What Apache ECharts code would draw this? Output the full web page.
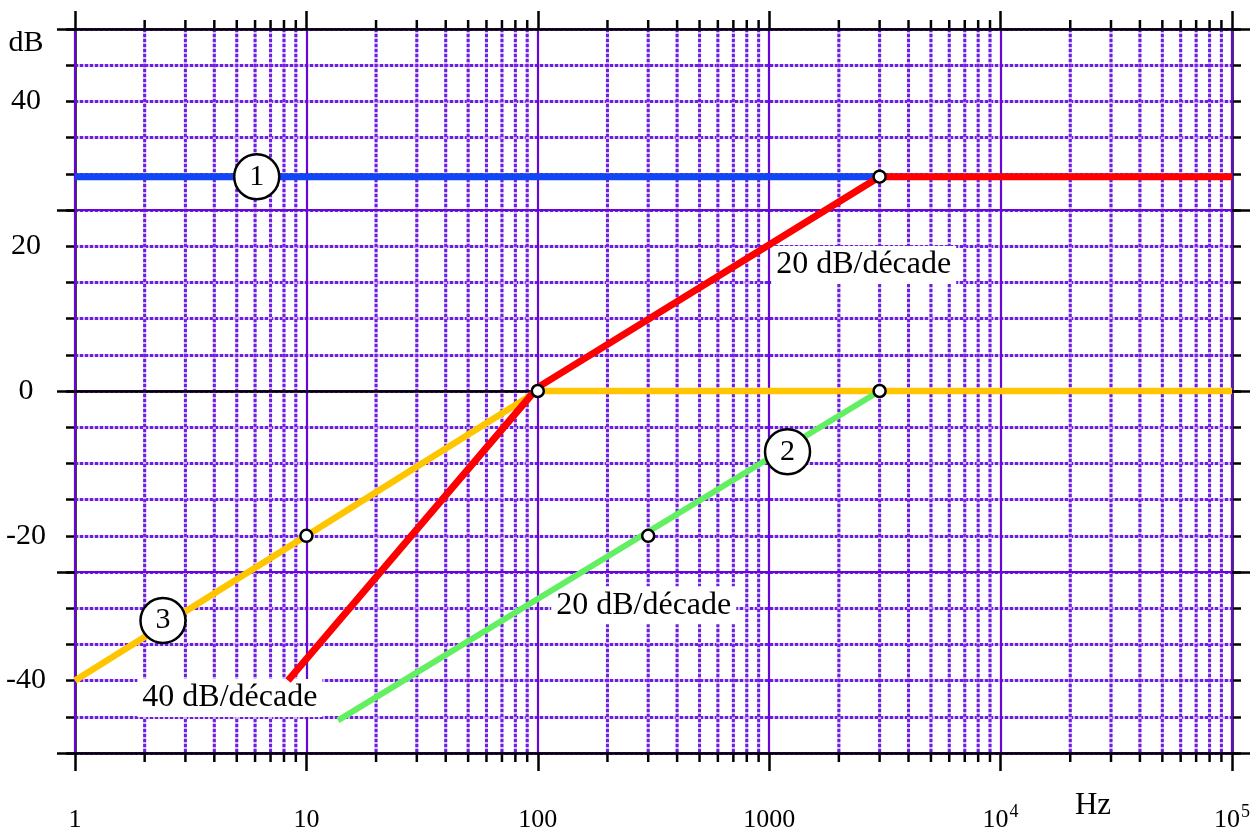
<!DOCTYPE html>
<html>
<head>
<meta charset="utf-8">
<script src="https://cdn.jsdelivr.net/npm/echarts@6/dist/echarts.min.js"></script>
<style>html,body{margin:0;padding:0;background:#fff}#c{width:1258px;height:833px}</style>
</head>
<body>
<div id="c"></div>
<script>
// ---- data ----
const blueData   = [[1, 29.6], [3000, 29.6]];
const redData    = [[8.33, -40], [100, 0.5], [3000, 29.6], [100000, 29.6]];
const yellowData = [[1, -40], [100, 0], [100000, 0]];
const greenData  = [[13.7, -45.5], [3000, 0]];
const breakPoints = [[3000, 29.6], [100, 0], [3000, 0], [10, -20], [300, -20]];
const curveTags  = [[6.1, 29.6, '1'], [1200, -8.4, '2'], [2.4, -31.7, '3']];
const slopeNotes = [[2560, 17.4, '20 dB/décade'], [287, -29.6, '20 dB/décade'], [4.67, -42.4, '40 dB/décade']];
const minorFreqs = [2,3,4,5,6,7,8,9, 20,30,40,50,60,70,80,90, 200,300,400,500,600,700,800,900,
                    2000,3000,4000,5000,6000,7000,8000,9000, 20000,30000,40000,50000,60000,70000,80000,90000];
const yTickLabels = [40, 20, 0, -20, -40];
const X_MIN = 1, X_MAX = 100000, Y_MIN = -50, Y_MAX = 50;

const FONT = '"Liberation Serif", "DejaVu Serif", serif';
const DOT = '#6e1ee2';
const DOT_BG = '#d2b8f4';
const SOLID = '#6608d4';

const chart = echarts.init(document.getElementById('c'), null, {renderer: 'canvas'});

function xLabel(v) {
  if (v <= 1000) return '{n|' + Math.round(v) + '}';
  return '{n|10}{s|' + Math.round(Math.log10(v)) + '}';
}

const option = {
  animation: false,
  backgroundColor: '#fff',
  grid: {left: 75, right: 26, top: 29, bottom: 78, containLabel: false},
  xAxis: [
    {
      type: 'log', logBase: 10, min: X_MIN, max: X_MAX, position: 'bottom', z: 2,
      axisLine: {show: true, onZero: false, lineStyle: {color: '#000', width: 2.5}},
      axisTick: {show: true, length: 18, lineStyle: {color: '#000', width: 2.5}},
      splitLine: {show: true, lineStyle: {color: SOLID, width: 2.2}},
      minorTick: {show: false}, minorSplitLine: {show: false},
      axisLabel: {
        show: true, margin: 50, formatter: xLabel, color: '#000',
        fontFamily: FONT, fontSize: 26,
        rich: {
          n: {fontFamily: FONT, fontSize: 26, color: '#000', lineHeight: 30, verticalAlign: 'bottom'},
          s: {fontFamily: FONT, fontSize: 18, color: '#000', lineHeight: 30, verticalAlign: 'top', padding: [0, 0, 0, 1]}
        }
      }
    },
    {
      type: 'log', logBase: 10, min: X_MIN, max: X_MAX, position: 'top', z: 2,
      axisLine: {show: true, onZero: false, lineStyle: {color: '#000', width: 2.5}},
      axisTick: {show: true, length: 18, lineStyle: {color: '#000', width: 2.5}},
      splitLine: {show: false}, axisLabel: {show: false}
    }
  ],
  yAxis: [
    {
      type: 'value', min: Y_MIN, max: Y_MAX, interval: 5, position: 'left', z: 0,
      axisLine: {show: true, onZero: false, lineStyle: {color: '#000', width: 2.5}},
      axisTick: {show: true, length: 9, lineStyle: {color: '#000', width: 2.5}},
      splitLine: {show: true, lineStyle: {color: DOT_BG, width: 3, type: 'solid'}},
      axisLabel: {
        show: true, margin: 49, align: 'center', color: '#000', fontFamily: FONT, fontSize: 30,
        formatter: function (v) { return yTickLabels.indexOf(v) >= 0 ? String(v) : ''; }
      }
    },
    {
      type: 'value', min: Y_MIN, max: Y_MAX, interval: 25, position: 'left', z: 2,
      axisLine: {show: false, onZero: false},
      axisTick: {show: true, length: 18, lineStyle: {color: '#000', width: 2.5}},
      splitLine: {show: true, lineStyle: {color: SOLID, width: 2.2}},
      axisLabel: {show: false}
    },
    {
      type: 'value', min: Y_MIN, max: Y_MAX, interval: 5, position: 'right', z: 1,
      axisLine: {show: true, onZero: false, lineStyle: {color: '#000', width: 2.5}},
      axisTick: {show: true, length: 9, lineStyle: {color: '#000', width: 2.5}},
      splitLine: {show: true, lineStyle: {color: DOT, width: 3, type: [3, 2]}},
      axisLabel: {show: false}
    },
    {
      type: 'value', min: Y_MIN, max: Y_MAX, interval: 25, position: 'right', z: 2,
      axisLine: {show: false, onZero: false},
      axisTick: {show: true, length: 18, lineStyle: {color: '#000', width: 2.5}},
      splitLine: {show: false}, axisLabel: {show: false}
    }
  ],
  graphic: [
    {type: 'text', x: 26, y: 43, z: 100,
     style: {text: 'dB', font: '30px ' + FONT, fill: '#000', align: 'center', verticalAlign: 'middle'}},
    {type: 'text', x: 1093, y: 806, z: 100,
     style: {text: 'Hz', font: '31px ' + FONT, fill: '#000', align: 'center', verticalAlign: 'middle'}}
  ],
  series: [
    {
      name: 'minorGrid', type: 'custom', coordinateSystem: 'cartesian2d', clip: false, z: 1, silent: true,
      data: minorFreqs.map(f => [f, 0]),
      encode: {x: 0, y: 1},
      renderItem: function (params, api) {
        const f = api.value(0);
        const top = api.coord([f, Y_MAX]);
        const bot = api.coord([f, Y_MIN]);
        return {
          type: 'group',
          children: [
            {type: 'line', shape: {x1: top[0], y1: top[1], x2: bot[0], y2: bot[1]},
             style: {stroke: DOT_BG, lineWidth: 3}},
            {type: 'line', shape: {x1: top[0], y1: top[1], x2: bot[0], y2: bot[1]},
             style: {stroke: DOT, lineWidth: 3, lineDash: [3, 2]}},
            {type: 'line', shape: {x1: bot[0], y1: bot[1], x2: bot[0], y2: bot[1] + 9},
             style: {stroke: '#000', lineWidth: 2.5}},
            {type: 'line', shape: {x1: top[0], y1: top[1], x2: top[0], y2: top[1] - 9},
             style: {stroke: '#000', lineWidth: 2.5}}
          ]
        };
      },
      markLine: {
        silent: true, z: 2, symbol: ['none', 'none'], label: {show: false},
        lineStyle: {color: '#000', width: 2.5, type: 'solid', opacity: 1},
        emphasis: {disabled: true},
        data: [{yAxis: 0}]
      }
    },
    {name: 'notes', type: 'scatter', data: slopeNotes, z: 4, symbol: 'circle', symbolSize: 1,
     itemStyle: {color: 'rgba(0,0,0,0)', opacity: 1},
     label: {show: true, position: 'inside', formatter: p => p.data[2], color: '#000', opacity: 1,
             textBorderWidth: 0, fontFamily: FONT, fontSize: 32, backgroundColor: '#fff', padding: [3, 5, 3, 5]}},
    {name: 'yellow', type: 'line', data: yellowData, z: 6, symbol: 'none',
     lineStyle: {color: '#ffc600', width: 6.5}},
    {name: 'green', type: 'line', data: greenData, z: 6, symbol: 'none',
     lineStyle: {color: '#62f062', width: 6}},
    {name: 'blue', type: 'line', data: blueData, z: 7, symbol: 'none',
     lineStyle: {color: '#1246f5', width: 7}},
    {name: 'red', type: 'line', data: redData, z: 8, symbol: 'none',
     lineStyle: {color: '#ff0000', width: 7}},
    {name: 'points', type: 'scatter', data: breakPoints, z: 10, symbol: 'circle', symbolSize: 12,
     itemStyle: {color: '#fff', borderColor: '#000', borderWidth: 2.5, opacity: 1}},
    {name: 'tags', type: 'scatter', data: curveTags, z: 11, symbol: 'circle', symbolSize: 45,
     itemStyle: {color: '#fff', borderColor: '#000', borderWidth: 2.5, opacity: 1},
     label: {show: true, position: 'inside', formatter: p => p.data[2], color: '#000', opacity: 1,
             textBorderWidth: 0, fontFamily: FONT, fontSize: 30}}
  ]
};
chart.setOption(option);
</script>
</body>
</html>
